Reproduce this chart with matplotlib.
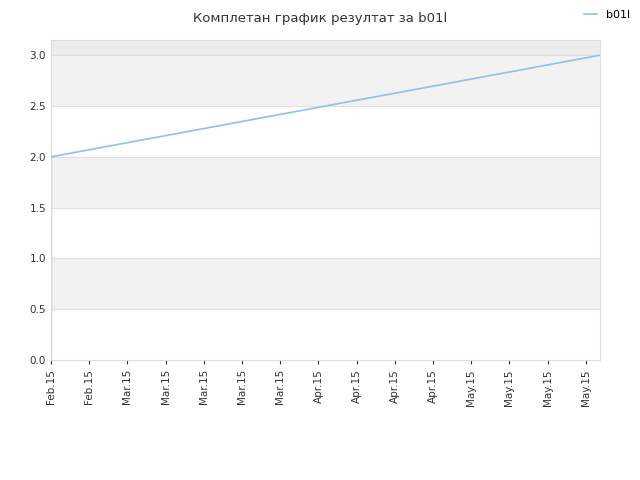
import matplotlib
matplotlib.use("Agg")
import matplotlib.pyplot as plt

tick_labels = ["Feb.15","Feb.15","Mar.15","Mar.15","Mar.15","Mar.15","Mar.15","Apr.15",
               "Apr.15","Apr.15","Apr.15","May.15","May.15","May.15","May.15"]
xs = [0, 0, 14.37]
ys = [0, 2.0, 3.0]

fig = plt.figure(figsize=(6.4, 4.8), dpi=100)
ax = fig.add_axes([51/640, 1-360/480, 549/640, 320/480])
ymax = 3.15
for lo, hi in [(0.5, 1.0), (1.5, 2.0), (2.5, 3.0), (3.0, ymax)]:
    ax.axhspan(lo, hi, color="#f2f2f2" if hi != ymax else "#ececec", zorder=0, lw=0)
for y in [0.5, 1.0, 1.5, 2.0, 2.5, 3.0]:
    ax.axhline(y, color="#e0e0e0", lw=0.8, zorder=1)
ax.plot(xs[:2], ys[:2], color="#bbbbbb", lw=1, zorder=2)
ax.plot(xs[1:], ys[1:], color="#90c0f0", lw=1.2, zorder=3, label="b01l")
ax.set_xlim(0, 14.37)
ax.set_ylim(0, ymax)
ax.set_yticks([0, 0.5, 1.0, 1.5, 2.0, 2.5, 3.0])
ax.set_yticklabels(["0.0","0.5","1.0","1.5","2.0","2.5","3.0"])
ax.set_xticks(range(len(tick_labels)))
ax.set_xticklabels(tick_labels, rotation=90)
ax.tick_params(labelsize=7.5, colors="#333333", length=3)
ax.tick_params(axis="y", length=0)
for s in ax.spines.values():
    s.set_color("#dddddd")
fig.text(0.5, 0.975, "Комплетан график резултат за b01l", ha="center", va="top",
         fontsize=9.5, color="#333333")
fig.legend(loc="upper right", bbox_to_anchor=(1.0, 1.0), frameon=False, fontsize=8,
           handlelength=1.2)
fig.savefig("out.png")
